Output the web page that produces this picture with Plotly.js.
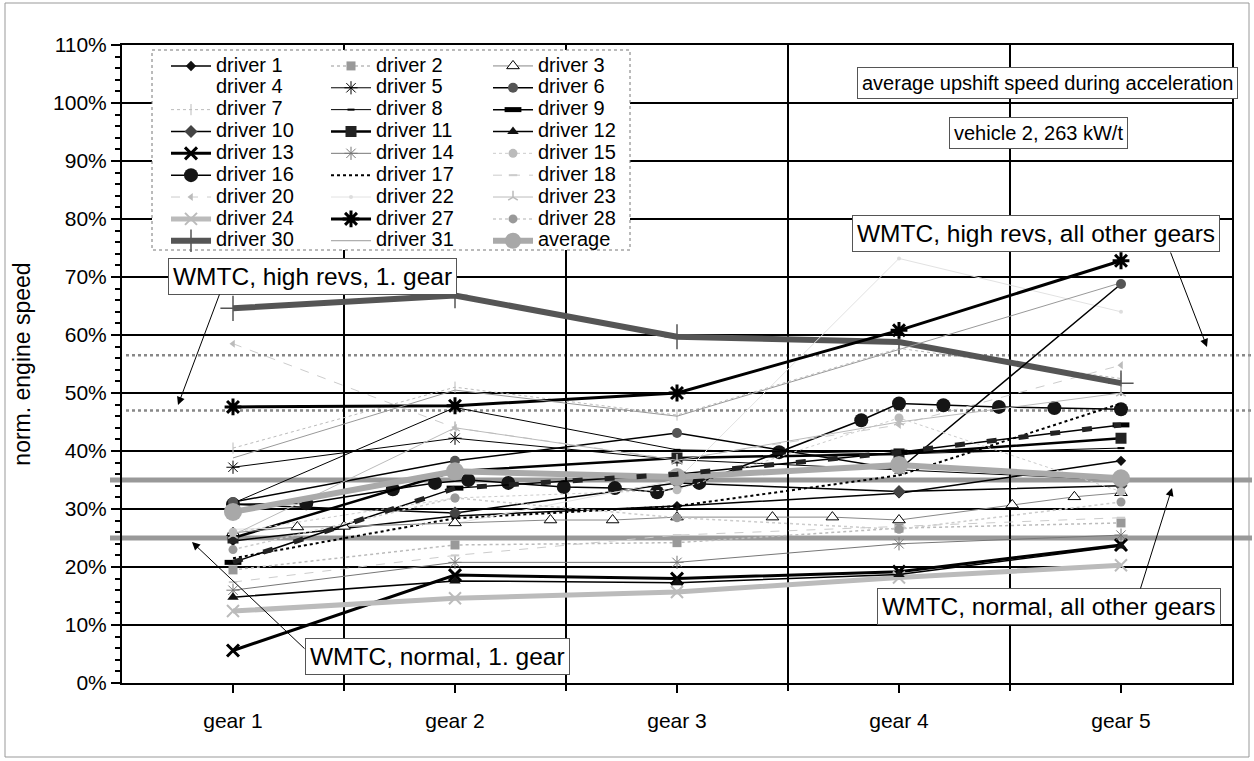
<!DOCTYPE html>
<html><head><meta charset="utf-8">
<script src="https://cdn.plot.ly/plotly-3.0.1.min.js"></script>
<style>html,body{margin:0;padding:0;background:#fff}</style>
</head><body>
<div id="chart" style="width:1254px;height:761px"></div>
<script>
// ---- data ----
const gears = ['gear 1', 'gear 2', 'gear 3', 'gear 4', 'gear 5'];
const gearPos = [0, 1, 2, 3, 4];

const driver1  = [24.5, 28.8, 30.5, 32.7, 38.3];
const driver2  = [19.5, 23.8, 24.2, 26.7, 27.6];
const driver3X = [0, 0.29, 0.5, 1, 1.43, 1.71, 2, 2.43, 2.70, 3, 3.51, 3.79, 4];
const driver3  = [25.9, 26.9, 27.0, 27.6, 28.1, 28.1, 28.6, 28.6, 28.6, 28.1, 30.7, 32.1, 32.8];
const driver4  = [22.5, 26.5, 27.5, 28.5, 30.5];
const driver5  = [37.2, 42.2, 38.5, 36.8, 35.0];
const driver6  = [31.2, 38.3, 43.1, 36.8, 68.8];
const driver7  = [40.5, 51.0, 46.2, 57.7, 52.5];
const driver8  = [31.0, 47.5, 40.2, 39.5, 40.5];
const driver9  = [20.8, 33.6, 36.0, 39.8, 44.5];
const driver10 = [30.8, 29.3, 34.5, 33.0, 34.0];
const driver11 = [25.0, 36.5, 38.8, 39.5, 42.2];
const driver12 = [14.8, 17.6, 17.3, 18.7, 23.6];
const driver13 = [5.6, 18.6, 18.0, 19.2, 23.8];
const driver14 = [16.0, 20.8, 20.8, 24.0, 25.5];
const driver15 = [26.0, 31.9, 33.3, 45.7, 33.0];
const driver16X = [0, 0.33, 0.72, 0.91, 1.06, 1.24, 1.49, 1.72, 1.91, 2.10, 2.46, 2.83, 3.0, 3.2, 3.45, 3.7, 4];
const driver16 = [30.8, 31.0, 33.4, 34.5, 35.0, 34.5, 33.8, 33.6, 32.9, 34.5, 39.8, 45.3, 48.2, 47.9, 47.6, 47.4, 47.2];
const driver17 = [21.5, 28.4, 30.5, 35.8, 48.2];
const driver18 = [17.4, 22.0, 25.5, 27.0, 28.5];
const driver20 = [58.5, 44.0, 38.5, 44.5, 54.8];
const driver22 = [26.5, 27.5, 35.0, 73.2, 64.0];
const driver23 = [25.5, 44.0, 38.4, 45.0, 50.0];
const driver24 = [12.4, 14.6, 15.7, 18.2, 20.3];
const driver27 = [47.6, 47.8, 50.0, 60.8, 72.8];
const driver28 = [23.0, 31.9, 28.5, 26.5, 31.2];
const driver30 = [64.6, 66.8, 59.7, 58.8, 51.7];
const driver31 = [38.8, 50.5, 46.0, 57.5, 69.0];
const average  = [29.5, 36.5, 35.5, 37.6, 35.3];

// WMTC reference levels (%)
const wmtcHighOther = 56.5;
const wmtcHigh1 = 47.0;
const wmtcNormalOther = 35.0;
const wmtcNormal1 = 25.0;

const yTicks = [0, 10, 20, 30, 40, 50, 60, 70, 80, 90, 100, 110];
const yTickLabels = ['0%', '10%', '20%', '30%', '40%', '50%', '60%', '70%', '80%', '90%', '100%', '110%'];

// ---- helpers ----
const FONT = 'Liberation Sans, Arial, sans-serif';
const L = 122, R = 1232, T = 45, B = 683;
const px = x => (x - L) / (R - L);
const py = y => 1 - (y - T) / (B - T);
const nm = s => '<span style="font-size:20px">' + s + '</span>';

function tr(name, x, y, legend, line, marker, mode) {
  return {
    type: 'scatter', name: nm(name), x: x, y: y, legend: legend,
    mode: mode || (marker ? 'lines+markers' : 'lines'),
    line: line, marker: marker || {size: 1}, hoverinfo: 'skip'
  };
}

const traces = [
  // column 1
  tr('driver 1', gearPos, driver1, 'legend', {color: '#000', width: 1.5}, {symbol: 'diamond', size: 8, color: '#111'}),
  tr('driver 4', gearPos, driver4, 'legend', {color: 'rgba(230,230,230,0.0)', width: 1}, null),
  tr('driver 7', gearPos, driver7, 'legend', {color: '#bbb', width: 1, dash: 'dot'}, {symbol: 'line-ns-open', size: 8, line: {color: '#999', width: 1}}),
  tr('driver 10', gearPos, driver10, 'legend', {color: '#000', width: 1.5}, {symbol: 'diamond', size: 10, color: '#444'}),
  tr('driver 13', gearPos, driver13, 'legend', {color: '#000', width: 3}, {symbol: 'x-thin-open', size: 12, line: {color: '#000', width: 3}}),
  tr('driver 16', driver16X, driver16, 'legend', {color: '#000', width: 1.5}, {symbol: 'circle', size: 14, color: '#151515'}),
  tr('driver 20', gearPos, driver20, 'legend', {color: '#ccc', width: 1, dash: 'dash'}, {symbol: 'triangle-left', size: 7, color: '#bbb'}),
  tr('driver 24', gearPos, driver24, 'legend', {color: '#bbb', width: 5}, {symbol: 'x-thin-open', size: 12, line: {color: '#aaa', width: 2}}),
  tr('driver 30', gearPos, driver30, 'legend', {color: '#555', width: 6}, {symbol: 'cross-thin-open', size: 18, line: {color: '#222', width: 1.5}}),
  // column 2
  tr('driver 2', gearPos, driver2, 'legend2', {color: '#bbb', width: 1.5, dash: 'dot'}, {symbol: 'square', size: 9, color: '#999'}),
  tr('driver 5', gearPos, driver5, 'legend2', {color: '#000', width: 1}, {symbol: 'asterisk-open', size: 11, line: {color: '#000', width: 1}}),
  tr('driver 8', gearPos, driver8, 'legend2', {color: '#000', width: 1}, {symbol: 'line-ew-open', size: 5, line: {color: '#000', width: 2}}),
  tr('driver 11', gearPos, driver11, 'legend2', {color: '#000', width: 2.5}, {symbol: 'square', size: 11, color: '#222'}),
  tr('driver 14', gearPos, driver14, 'legend2', {color: '#777', width: 1}, {symbol: 'asterisk-open', size: 11, line: {color: '#777', width: 1}}),
  tr('driver 17', gearPos, driver17, 'legend2', {color: '#000', width: 2, dash: 'dot'}, null),
  tr('driver 22', gearPos, driver22, 'legend2', {color: '#e2e2e2', width: 1}, {symbol: 'circle', size: 4, color: '#ddd'}),
  tr('driver 27', gearPos, driver27, 'legend2', {color: '#000', width: 3}, {symbol: 'asterisk-open', size: 14, line: {color: '#000', width: 3}}),
  tr('driver 31', gearPos, driver31, 'legend2', {color: '#999', width: 1}, null),
  // column 3
  tr('driver 3', driver3X, driver3, 'legend3', {color: '#888', width: 1}, {symbol: 'triangle-up', size: 11, color: '#fff', line: {color: '#000', width: 1}}),
  tr('driver 6', gearPos, driver6, 'legend3', {color: '#000', width: 1.5}, {symbol: 'circle', size: 10, color: '#555'}),
  tr('driver 9', gearPos, driver9, 'legend3', {color: '#000', width: 1.5}, {symbol: 'line-ew-open', size: 12, line: {color: '#222', width: 5}}),
  tr('driver 12', gearPos, driver12, 'legend3', {color: '#000', width: 1.5}, {symbol: 'triangle-up', size: 10, color: '#111'}),
  tr('driver 15', gearPos, driver15, 'legend3', {color: '#ccc', width: 1, dash: 'dot'}, {symbol: 'circle', size: 9, color: '#bbb'}),
  tr('driver 18', gearPos, driver18, 'legend3', {color: '#ccc', width: 1, dash: 'dash'}, {symbol: 'line-ew-open', size: 6, line: {color: '#aaa', width: 2}}),
  tr('driver 23', gearPos, driver23, 'legend3', {color: '#bbb', width: 1}, {symbol: 'y-up-open', size: 8, line: {color: '#aaa', width: 1.5}}),
  tr('driver 28', gearPos, driver28, 'legend3', {color: '#ccc', width: 1.5, dash: 'dot'}, {symbol: 'circle', size: 9, color: '#999'}),
  tr('average', gearPos, average, 'legend3', {color: '#aaa', width: 6}, {symbol: 'circle', size: 18, color: '#a8a8a8'})
];
// thick dash overlay of driver 9
traces.push({type: 'scatter', x: gearPos, y: driver9, mode: 'lines', showlegend: false, hoverinfo: 'skip',
  line: {color: '#222', width: 5, dash: '10px,22px'}});

// ---- shapes ----
const shapes = [
  {type: 'line', xref: 'paper', yref: 'y', x0: px(126), x1: px(1252), y0: wmtcHighOther, y1: wmtcHighOther, layer: 'below', line: {color: '#888', width: 2.5, dash: 'dot'}},
  {type: 'line', xref: 'paper', yref: 'y', x0: px(126), x1: px(1252), y0: wmtcHigh1, y1: wmtcHigh1, layer: 'below', line: {color: '#888', width: 2.5, dash: 'dot'}},
  {type: 'line', xref: 'paper', yref: 'y', x0: px(110), x1: px(1252), y0: wmtcNormalOther, y1: wmtcNormalOther, layer: 'below', line: {color: '#999', width: 5}},
  {type: 'line', xref: 'paper', yref: 'y', x0: px(110), x1: px(1252), y0: wmtcNormal1, y1: wmtcNormal1, layer: 'below', line: {color: '#999', width: 5}},
  {type: 'rect', xref: 'paper', yref: 'paper', x0: px(152), x1: px(630), y0: py(50), y1: py(250), layer: 'above', fillcolor: '#fff', line: {color: '#777', width: 1, dash: 'dot'}},
  {type: 'rect', xref: 'paper', yref: 'paper', x0: px(5), x1: px(1249), y0: py(3), y1: py(757), layer: 'below', line: {color: '#999', width: 1}}
];

// ---- annotations ----
const bigFont = {family: FONT, size: 24.5, color: '#000'};
const midFont = {family: FONT, size: 20, color: '#000'};
function box(text, x, y, xanchor, font) {
  return {text: text, xref: 'paper', yref: 'paper', x: px(x), y: py(y), xanchor: xanchor, yanchor: 'middle',
    showarrow: false, font: font, bgcolor: '#fff', bordercolor: '#555', borderwidth: 1, borderpad: 4};
}
function arrow(hx, hy, tx, ty) {
  return {text: '', xref: 'paper', yref: 'paper', x: px(hx), y: py(hy), ax: tx - hx, ay: ty - hy,
    showarrow: true, arrowhead: 2, arrowsize: 1.6, arrowwidth: 1, arrowcolor: '#000'};
}
const annotations = [
  box('average upshift speed during acceleration', 1238, 83, 'right', midFont),
  box('vehicle 2, 263 kW/t', 1128, 133, 'right', midFont),
  box('WMTC, high revs, all other gears', 852, 233, 'left', bigFont),
  box('WMTC, high revs, 1. gear', 168, 276, 'left', bigFont),
  box('WMTC, normal, 1. gear', 305, 656, 'left', bigFont),
  box('WMTC, normal, all other gears', 877, 606, 'left', bigFont),
  arrow(1207, 347, 1170, 251),
  arrow(178, 405, 220, 293),
  arrow(192, 542, 306, 650),
  arrow(1172, 488, 1140, 590)
];

const legendBase = {font: {family: FONT, size: 14.5, color: '#000'}, bgcolor: 'rgba(0,0,0,0)', borderwidth: 0,
  itemwidth: 40, xanchor: 'left', yanchor: 'top', y: py(50), traceorder: 'normal', itemclick: false};

const layout = {
  width: 1254, height: 761,
  margin: {l: L, r: 1254 - R, t: T, b: 761 - B},
  paper_bgcolor: '#fff', plot_bgcolor: '#fff',
  font: {family: FONT, color: '#000'},
  showlegend: true,
  legend: Object.assign({}, legendBase, {x: px(166)}),
  legend2: Object.assign({}, legendBase, {x: px(326)}),
  legend3: Object.assign({}, legendBase, {x: px(488)}),
  xaxis: {
    type: 'linear', range: [-0.5, 4.5], tickmode: 'array', tickvals: gearPos, ticktext: gears,
    ticks: 'outside', ticklen: 8, tickwidth: 2, tickcolor: '#000', ticklabelstandoff: 10,
    tickfont: {family: FONT, size: 21, color: '#000'},
    showgrid: false, zeroline: false, showline: true, linecolor: '#000', linewidth: 2, mirror: true,
    minor: {tickmode: 'array', tickvals: [0.5, 1.5, 2.5, 3.5], showgrid: true, gridcolor: '#000', gridwidth: 2,
      ticks: 'outside', ticklen: 6, tickwidth: 2, tickcolor: '#000'}
  },
  yaxis: {
    range: [0, 110], tickmode: 'array', tickvals: yTicks, ticktext: yTickLabels,
    ticks: 'outside', ticklen: 9, tickwidth: 2, tickcolor: '#000',
    tickfont: {family: FONT, size: 21, color: '#000'},
    showgrid: true, gridcolor: '#000', gridwidth: 2, zeroline: false,
    showline: true, linecolor: '#000', linewidth: 2, mirror: true,
    minor: {dtick: 2, ticks: 'outside', ticklen: 5, tickwidth: 2, tickcolor: '#000', showgrid: false},
    title: {text: 'norm. engine speed', font: {family: FONT, size: 23, color: '#000'}, standoff: 16}
  },
  shapes: shapes,
  annotations: annotations
};

Plotly.newPlot('chart', traces, layout, {displayModeBar: false, staticPlot: true});
</script>
</body></html>
